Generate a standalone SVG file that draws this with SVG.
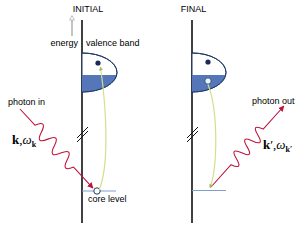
<svg xmlns="http://www.w3.org/2000/svg" width="300" height="229" viewBox="0 0 300 229">
<style>
.lbl{font-family:"Liberation Sans",Arial,sans-serif;font-size:9px;fill:#000}
.math{font-family:"Liberation Serif","Times New Roman",serif;fill:#000}
.axis{stroke:#111;stroke-width:1.6;fill:none}
.band{fill:#fff;stroke:#1f3864;stroke-width:1}
.fillb{fill:#5576b9}
.core{stroke:#7f9fcf;stroke-width:1.2}
.photon{stroke:#c0143c;stroke-width:1.1;fill:none}
.trans{stroke:#d3df8f;stroke-width:1.2;fill:none}
.brk{stroke:#111;stroke-width:1}
</style>
<defs>
<marker id="redArrow" viewBox="0 0 10 10" refX="9" refY="5" markerWidth="6" markerHeight="6" orient="auto" markerUnits="userSpaceOnUse"><path d="M0,0 L10,5 L0,10 Z" fill="#c0143c"/></marker>
<marker id="grnArrow" viewBox="0 0 10 10" refX="9" refY="5" markerWidth="4" markerHeight="4" orient="auto" markerUnits="userSpaceOnUse"><path d="M0,0 L10,5 L0,10 Z" fill="#9bbb59"/></marker>
</defs>

<g id="initial-panel">
<text class="lbl" x="88" y="12" text-anchor="middle">INITIAL</text>
<line class="axis" x1="82" y1="20" x2="82" y2="223"/>
</g>
<g id="energy-arrow">
<line x1="72" y1="36" x2="72" y2="19" stroke="#c4c4c4" stroke-width="2"/>
<path d="M69.5,20 L72,15.5 L74.5,20 Z" fill="#fff" stroke="#b0b0b0" stroke-width="0.8"/>
<text class="lbl" x="78" y="46" text-anchor="end">energy</text>
</g>
<g id="valence-band-initial">
<path class="band" d="M82,53 A35,19.5 0 0 1 82,92 Z"/>
<path class="fillb" d="M82,75 L116.7,75 A35,19.5 0 0 1 82,92 Z"/>
<path d="M82,53 A35,19.5 0 0 1 82,92" fill="none" stroke="#1f3864" stroke-width="1"/>
<circle cx="98" cy="63" r="2.6" fill="#1a2a5a"/>
<text class="lbl" x="86" y="46">valence band</text>
</g>
<g id="core-level-initial">
<line class="core" x1="82" y1="191" x2="116" y2="191"/>
<circle cx="97" cy="191" r="3.2" fill="#fff" stroke="#1f3864" stroke-width="1"/>
<text class="lbl" x="88" y="202">core level</text>
</g>
<g id="photon-in">
<g transform="translate(20,109) rotate(47.3)">
<path class="photon" marker-end="url(#redArrow)" d="M0,0 L22,0 q4.75,-13 9.5,0 t9.5,0 t9.5,0 t9.5,0 t9.5,0 t9.5,0 L107.6,0"/>
</g>
<text class="lbl" x="8" y="105">photon in</text>
<text class="math" x="12" y="144" font-size="13"><tspan font-weight="bold">k</tspan>,<tspan font-style="italic">ω</tspan><tspan font-size="8" font-weight="bold" dy="3">k</tspan></text>
</g>

<g id="final-panel">
<text class="lbl" x="193.5" y="12" text-anchor="middle">FINAL</text>
<line class="axis" x1="192" y1="20" x2="192" y2="223"/>
</g>
<g id="valence-band-final">
<path class="band" d="M192,53 A34,19.5 0 0 1 192,92 Z"/>
<path class="fillb" d="M192,75 L225.7,75 A34,19.5 0 0 1 192,92 Z"/>
<path d="M192,53 A34,19.5 0 0 1 192,92" fill="none" stroke="#1f3864" stroke-width="1"/>
<circle cx="208" cy="62" r="2.6" fill="#1a2a5a"/>
<circle cx="208" cy="81" r="3.2" fill="#e4f6ff" stroke="#1f3864" stroke-width="0.8"/>
</g>
<g id="core-level-final">
<line class="core" x1="192" y1="190.5" x2="226" y2="190.5"/>
</g>
<g id="photon-out">
<g transform="translate(211,187) rotate(-48)">
<path class="photon" marker-end="url(#redArrow)" d="M0,0 L30,0 q4,13 8,0 t8,0 t8,0 t8,0 t8,0 t8,0 L109,0"/>
</g>
<text class="lbl" x="252" y="104">photon out</text>
<text class="math" x="263" y="149" font-size="13"><tspan font-weight="bold">k</tspan>′,<tspan font-style="italic">ω</tspan><tspan font-size="8" font-weight="bold" dy="3">k′</tspan></text>
</g>

<g id="connectors">
<path class="trans" marker-end="url(#grnArrow)" d="M99,190 C108,170 108,120 100.5,67"/>
<path class="trans" marker-end="url(#grnArrow)" d="M208,84.5 C218,110 218,165 210,188"/>
<line class="brk" x1="77" y1="142" x2="88" y2="131"/>
<line class="brk" x1="77" y1="138" x2="88" y2="127"/>
<line class="brk" x1="187" y1="142" x2="198" y2="131"/>
<line class="brk" x1="187" y1="138" x2="198" y2="127"/>
</g>
</svg>
